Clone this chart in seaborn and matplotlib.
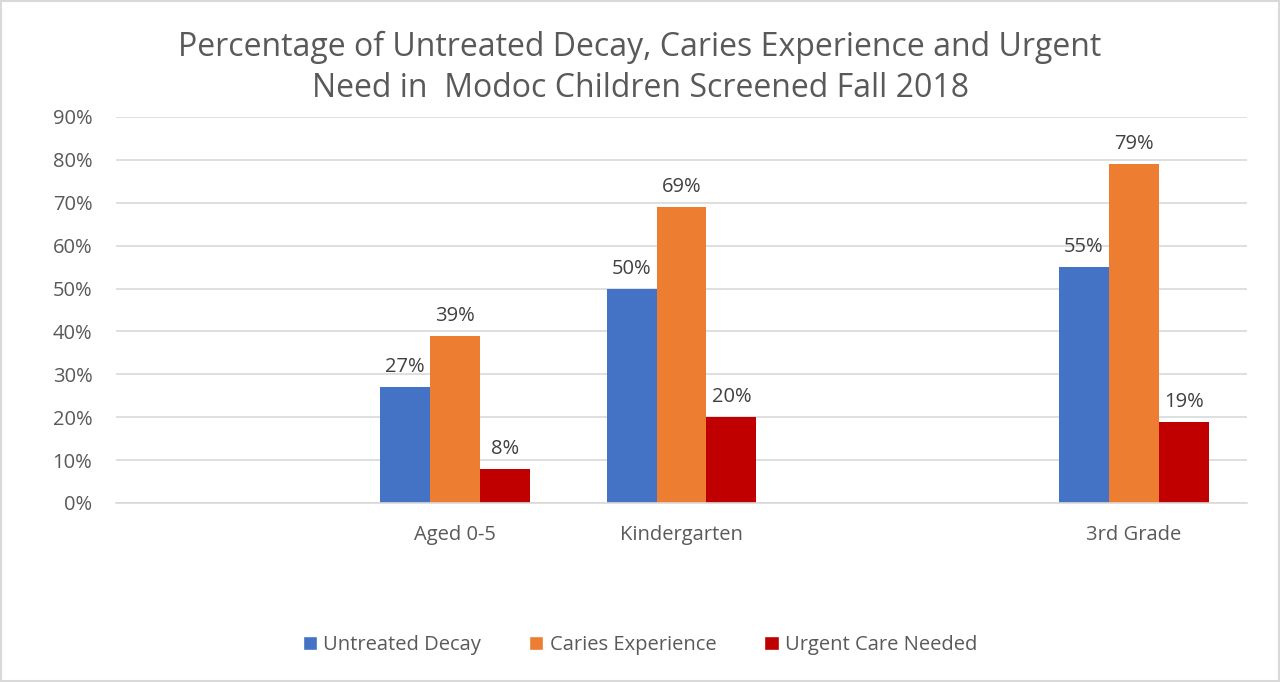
import matplotlib
matplotlib.use("Agg")
import matplotlib.pyplot as plt
import seaborn as sns
import pandas as pd
import numpy as np
from matplotlib.patches import Rectangle, Patch
from matplotlib.ticker import FuncFormatter, MultipleLocator

# Chart data (percent); blank slots keep Excel-style spacing between groups
categories = ["", "Aged 0-5", "Kindergarten", " ", "3rd Grade"]
series = ["Untreated Decay", "Caries Experience", "Urgent Care Needed"]
untreated_decay = [np.nan, 27, 50, np.nan, 55]
caries_experience = [np.nan, 39, 69, np.nan, 79]
urgent_care = [np.nan, 8, 20, np.nan, 19]
colors = ["#4472C4", "#ED7D31", "#C00000"]

rows = []
for name, vals in zip(series, [untreated_decay, caries_experience, urgent_care]):
    for cat, v in zip(categories, vals):
        rows.append({"category": cat, "series": name, "value": v})
df = pd.DataFrame(rows)

sns.set_theme(style="white")
plt.rcParams["font.family"] = ["Open Sans", "DejaVu Sans"]

fig = plt.figure(figsize=(12.8, 6.82), dpi=100)
ax = fig.add_axes([116 / 1280, (682 - 503) / 682, (1247 - 116) / 1280, (503 - 117) / 682])

sns.barplot(data=df, x="category", y="value", hue="series", order=categories,
            hue_order=series, palette=colors, width=0.663, gap=0, linewidth=0,
            ax=ax, legend=False, saturation=1, errorbar=None)

for cont in ax.containers:
    labels = ["" if np.isnan(b.get_height()) else f"{b.get_height():.0f}%" for b in cont]
    ax.bar_label(cont, labels=labels, padding=7, fontsize=14.5, color="#404040")

ax.set_ylim(0, 90)
ax.set_xlim(-0.5, len(categories) - 0.5)
ax.yaxis.set_major_locator(MultipleLocator(10))
ax.yaxis.set_major_formatter(FuncFormatter(lambda v, p: f"{v:.0f}%"))
ax.grid(axis="y", color="#d9d9d9", linewidth=1.2)
ax.set_axisbelow(True)
for s in ["top", "right", "left"]:
    ax.spines[s].set_visible(False)
ax.spines["bottom"].set_color("#d9d9d9")
ax.spines["bottom"].set_linewidth(1.2)
ax.tick_params(axis="y", labelsize=14.5, labelcolor="#595959", length=0, pad=17)
ax.tick_params(axis="x", labelsize=14.5, labelcolor="#595959", length=0, pad=16)
ax.set_xlabel("")
ax.set_ylabel("")

fig.text(0.5, 0.9005, "Percentage of Untreated Decay, Caries Experience and Urgent\nNeed in  Modoc Children Screened Fall 2018",
         ha="center", va="center", fontsize=23, color="#595959", linespacing=1.35)

handles = [Patch(facecolor=c, label=n) for c, n in zip(colors, series)]
fig.legend(handles=handles, loc="center", bbox_to_anchor=(0.5, 0.054), ncol=3,
           frameon=False, fontsize=14.5, handlelength=0.7, handleheight=0.7,
           handletextpad=0.3, columnspacing=2.4, labelcolor="#595959")

fig.patches.append(Rectangle((0.001, 0.001), 0.998, 0.998, transform=fig.transFigure,
                             fill=False, edgecolor="#d9d9d9", linewidth=1.5))

fig.savefig("out.png", dpi=100, facecolor="white")
